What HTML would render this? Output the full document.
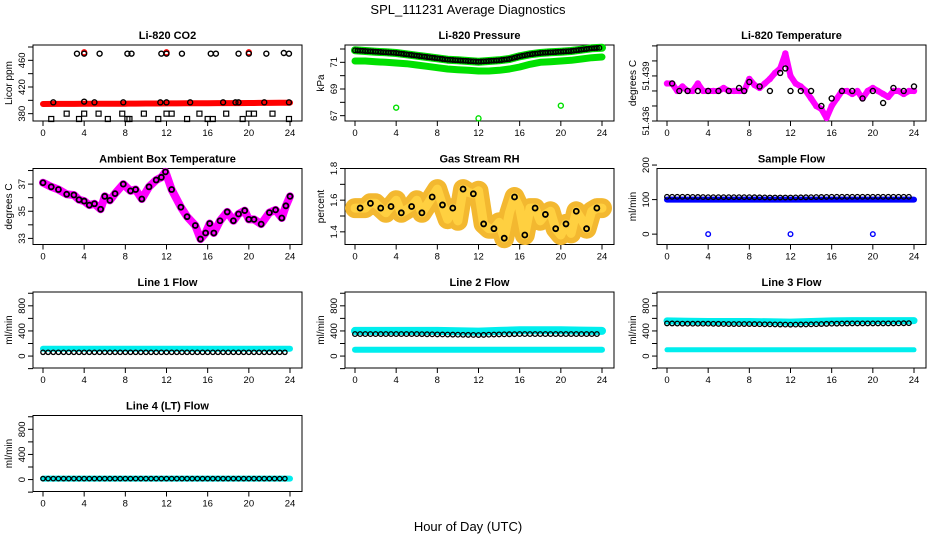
<!DOCTYPE html>
<html><head><meta charset="utf-8">
<style>
html,body{margin:0;padding:0;background:#fff;}
svg{display:block;font-family:"Liberation Sans",sans-serif;}
</style></head>
<body>
<svg id="chart" width="936" height="540" viewBox="0 0 936 540" xmlns="http://www.w3.org/2000/svg">
<rect width="936" height="540" fill="#fff"/>
<text x="468" y="14" text-anchor="middle" font-size="13">SPL_111231  Average Diagnostics</text>
<text x="468" y="531" text-anchor="middle" font-size="13">Hour of Day (UTC)</text>
</svg>
<script>
// ---- data ----
const xTicks = [0,4,8,12,16,20,24];
// CO2
const co2RedHours = [0,1,2,3,4,5,6,7,8,9,10,11,12,13,14,15,16,17,18,19,20,21,22,23,24];
const co2RedVals = [394.5,394.6,394.6,394.7,394.8,394.8,394.9,395,395,395.1,395.2,395.3,395.4,395.4,395.5,395.6,395.7,395.8,395.8,395.9,396,396.1,396.2,396.3,396.5];
const co2HighHours = [3.3,4,5.5,8.2,8.6,11.5,12,13.5,16.3,16.8,19,20,21.7,23.4,23.9];
const co2HighVals = [470,470,470,470,470,470,470,470,470,470,470,470,470,471,470];
const co2RedHighHours = [4,12,20];
const co2RedHighVals = [472,472,472];
const co2MidHours = [1,4,5,7.8,11.4,12,14.3,17.5,18.7,19,21.5,23.9];
const co2MidVals = [397,398,397,397,397,397,397,397,397,397,397,397];
const co2LowHours = [0.8,2.3,3.5,4,5.4,6.3,7.7,8.2,8.4,9.8,11.2,12,12.5,14,15.2,16,16.5,17.8,19.4,20,20.5,22.3,23.9];
const co2LowVals = [372,380,372,380,380,372,380,372,372,380,372,380,380,372,380,372,372,380,372,380,380,380,372];
// Pressure
const presHours = [0,1,2,3,4,5,6,7,8,9,10,11,12,13,14,15,16,17,18,19,20,21,22,23,24];
const presBlack = [71.9,71.85,71.8,71.75,71.7,71.6,71.5,71.4,71.3,71.2,71.15,71.1,71.05,71.1,71.15,71.25,71.45,71.6,71.7,71.75,71.8,71.85,71.95,72.05,72.1];
const presGreen = [71.1,71.1,71.05,71.0,70.95,70.9,70.8,70.7,70.6,70.5,70.45,70.4,70.35,70.35,70.4,70.5,70.65,70.85,71.0,71.05,71.1,71.15,71.25,71.35,71.4];
const presOutHours = [4,12,20];
const presOutVals = [67.6,66.8,67.75];
// Li-820 temperature
const tempHours = [0,0.5,1,1.5,2,2.5,3,3.5,4,4.5,5,5.5,6,6.5,7,7.5,8,8.5,9,9.5,10,10.5,11,11.5,12,12.5,13,13.5,14,14.5,15,15.5,16,16.5,17,17.5,18,18.5,19,19.5,20,20.5,21,21.5,22,22.5,23,23.5,24];
const tempPink = [51.4385,51.4385,51.438,51.4383,51.438,51.438,51.4385,51.438,51.438,51.438,51.438,51.4382,51.438,51.438,51.438,51.438,51.4388,51.4384,51.4382,51.4385,51.4388,51.4392,51.4395,51.4405,51.439,51.4385,51.4383,51.438,51.4375,51.437,51.4368,51.4362,51.437,51.4375,51.438,51.438,51.4378,51.438,51.4375,51.438,51.4382,51.438,51.4378,51.4376,51.438,51.438,51.4378,51.438,51.438];
const tempBlackHours = [0.5,1.2,2,3,4,5,6,7,7.5,8,9,10,11,11.5,12,13,14,15,16,17,18,19,20,21,22,23,24];
const tempBlack = [51.4385,51.438,51.438,51.438,51.438,51.438,51.438,51.4382,51.438,51.4386,51.4383,51.438,51.4392,51.4395,51.438,51.438,51.438,51.437,51.4375,51.438,51.438,51.4375,51.438,51.4372,51.4382,51.438,51.4383];
// Ambient box temperature
const ambHours = [0,0.8,1.5,2.3,3,3.5,4,4.5,5,5.6,6,6.5,7,7.8,8.5,9,9.6,10.3,11,11.5,11.9,12.5,13.4,14,14.8,15.3,15.8,16.2,16.6,17.2,17.9,18.5,19,19.6,20,20.5,21.2,22,22.6,23.2,23.6,24];
const ambVals = [37.1,36.8,36.6,36.25,36.2,35.85,35.75,35.45,35.55,35.15,36.1,35.8,36.3,37.0,36.5,36.6,35.9,36.8,37.3,37.5,37.9,36.6,35.3,34.6,33.95,32.95,33.4,34.1,33.4,34.3,34.95,34.3,34.8,35.05,34.4,34.4,34.05,34.9,35.1,34.5,35.4,36.1];
// Gas stream RH
const rhHours = [0,0.5,1,1.5,2,2.5,3,3.5,4,4.5,5,5.5,6,6.5,7,7.5,8,8.5,9,9.5,10,10.5,11,11.5,12,12.5,13,13.5,14,14.5,15,15.5,16,16.5,17,17.5,18,18.5,19,19.5,20,20.5,21,21.5,22,22.5,23,23.5,24];
const rhVals = [1.55,1.55,1.55,1.58,1.58,1.55,1.52,1.56,1.6,1.52,1.54,1.56,1.6,1.52,1.57,1.62,1.67,1.57,1.48,1.55,1.47,1.67,1.65,1.64,1.66,1.45,1.42,1.42,1.46,1.36,1.52,1.62,1.55,1.38,1.55,1.55,1.47,1.51,1.53,1.42,1.38,1.45,1.39,1.53,1.48,1.42,1.53,1.55,1.55];
// Flows
const flowHours = [0,2,4,6,8,10,12,14,16,18,20,22,24];
const sampleBlue = [100,100,100,100,100,100,100,100,100,100,100,100,100];
const sampleBlack = [108,108,107,107,107,106,106,107,108,108,108,108,108];
const sampleOutHours = [4,12,20];
const sampleOutVals = [0,0,0];
const line1Cyan = [115,115,115,115,115,115,115,115,115,115,115,115,115];
const line1Black = [60,60,60,60,60,60,60,60,60,60,60,60,60];
const line2CyanHi = [400,400,400,400,400,395,390,400,410,410,410,405,400];
const line2CyanLo = [100,100,100,100,100,100,100,100,100,100,100,100,100];
const line2Black = [350,350,350,350,345,340,335,345,350,350,350,350,350];
const line3CyanHi = [560,555,550,550,550,545,540,550,560,565,565,565,565];
const line3CyanLo = [100,100,100,100,100,100,100,100,100,100,100,100,100];
const line3Black = [520,515,515,510,510,505,500,505,515,520,520,520,525];
const line4Cyan = [15,15,15,15,15,15,15,15,15,15,15,15,15];
const line4Black = [15,15,15,15,15,15,15,15,15,15,15,15,15];

// ---- drawing ----
const NS = 'http://www.w3.org/2000/svg';
const svg = document.getElementById('chart');
function mk(parent, tag, attrs, name) {
  const el = document.createElementNS(NS, tag);
  for (const k in attrs) el.setAttribute(k, attrs[k]);
  
  
  parent.appendChild(el);
  return el;
}
function panel(col, row, title, ylab, ymin, ymax, yTicks, yLabels, slug) {
  const left = 33 + 312 * col, right = 302 + 312 * col;
  const top = 45 + 123.5 * row, bottom = top + 76;
  const g = mk(svg, 'g', {}, slug + '-panel');
  const x = h => 43 + 312 * col + h * (247 / 24);
  const y = v => bottom - (v - ymin) / (ymax - ymin) * (bottom - top);
  mk(g, 'rect', {x: left, y: top, width: right - left, height: bottom - top, fill: 'none', stroke: '#000', 'stroke-width': 1}, slug + '-plot-box');
  const t = mk(g, 'text', {x: (left + right) / 2, y: top - 6, 'text-anchor': 'middle', 'font-size': 11, 'font-weight': 'bold'}, slug + '-title');
  t.textContent = title;
  xTicks.forEach(h => {
    mk(g, 'line', {x1: x(h), x2: x(h), y1: bottom, y2: bottom + 5, stroke: '#000'}, 'x-tick');
    const lt = mk(g, 'text', {x: x(h), y: bottom + 15, 'text-anchor': 'middle', 'font-size': 9.5}, 'x-tick-label');
    lt.textContent = h;
  });
  yTicks.forEach((v, i) => {
    mk(g, 'line', {x1: left - 5, x2: left, y1: y(v), y2: y(v), stroke: '#000'}, 'y-tick');
    if (yLabels[i] !== '') {
      const lt = mk(g, 'text', {x: left - 8, y: y(v), 'text-anchor': 'middle', 'font-size': 9.5, transform: `rotate(-90 ${left - 8} ${y(v)})`}, 'y-tick-label');
      lt.textContent = yLabels[i];
    }
  });
  const yl = mk(g, 'text', {x: left - 21, y: (top + bottom) / 2, 'text-anchor': 'middle', 'font-size': 10, transform: `rotate(-90 ${left - 21} ${(top + bottom) / 2})`}, slug + '-y-axis-title');
  yl.textContent = ylab;
  const clip = mk(g, 'g', {}, slug + '-marks');
  return {g: clip, x, y};
}
function band(p, hs, vs, color, w, name) {
  const pts = hs.map((h, i) => p.x(h).toFixed(1) + ',' + p.y(vs[i]).toFixed(1)).join(' ');
  mk(p.g, 'polyline', {points: pts, fill: 'none', stroke: color, 'stroke-width': w, 'stroke-linejoin': 'round', 'stroke-linecap': 'round'}, name);
}
function pts(p, hs, vs, color, r, name, sw) {
  hs.forEach((h, i) => {
    mk(p.g, 'circle', {cx: p.x(h), cy: p.y(vs[i]), r: r, fill: 'none', stroke: color, 'stroke-width': sw || 1.4}, name);
  });
}
function dense(p, hs, vs, color, r, name) {
  for (let i = 0; i < hs.length - 1; i++) {
    for (let k = 0; k < 4; k++) {
      const f = k / 4;
      mk(p.g, 'circle', {cx: p.x(hs[i] + (hs[i + 1] - hs[i]) * f), cy: p.y(vs[i] + (vs[i + 1] - vs[i]) * f), r: r, fill: 'none', stroke: color, 'stroke-width': 1.3}, name);
    }
  }
}

// Panel: CO2
let p = panel(0, 0, 'Li-820 CO2', 'Licor ppm', 369, 483, [380,400,420,440,460,480], ['380','','420','','460',''], 'co2');
band(p, co2RedHours, co2RedVals, '#ff0000', 6, 'co2-red-series');
pts(p, co2RedHighHours, co2RedHighVals, '#ff0000', 2.5, 'co2-red-point');
pts(p, co2HighHours, co2HighVals, '#000', 2.5, 'co2-black-high-point');
pts(p, co2MidHours, co2MidVals, '#000', 2.5, 'co2-black-mid-point');
co2LowHours.forEach((h, i) => {
  mk(p.g, 'rect', {x: p.x(h) - 2.5, y: p.y(co2LowVals[i]) - 2.5, width: 5, height: 5, fill: 'none', stroke: '#000', 'stroke-width': 1.2}, 'co2-black-low-point');
});

// Pressure
p = panel(1, 0, 'Li-820 Pressure', 'kPa', 66.6, 72.3, [67,68,69,70,71,72], ['67','','69','','71',''], 'pressure');
band(p, presHours, presGreen, '#00e000', 7, 'pressure-green-series');
band(p, presHours, presBlack, '#00e000', 8, 'pressure-green-upper-series');
dense(p, presHours, presBlack, '#000', 2.3, 'pressure-black-point');
pts(p, presOutHours, presOutVals, '#00e000', 2.5, 'pressure-green-outlier');

// Li-820 temperature
p = panel(2, 0, 'Li-820 Temperature', 'degrees C', 51.436, 51.44106, [51.436,51.437,51.438,51.439,51.440,51.441], ['51.436','','','51.439','',''], 'temperature');
band(p, tempHours, tempPink, '#ff00ff', 6, 'temperature-magenta-series');
pts(p, tempHours, tempPink, '#ff00ff', 2.5, 'temperature-magenta-point');
pts(p, tempBlackHours, tempBlack, '#000', 2.5, 'temperature-black-point');

// Ambient
p = panel(0, 1, 'Ambient Box Temperature', 'degrees C', 32.55, 38.15, [33,34,35,36,37,38], ['33','','35','','37',''], 'ambient');
band(p, ambHours, ambVals, '#ff00ff', 8, 'ambient-magenta-series');
pts(p, ambHours, ambVals, '#000', 2.5, 'ambient-black-point', 1.8);

// RH
p = panel(1, 1, 'Gas Stream RH', 'percent', 1.32, 1.8, [1.4,1.5,1.6,1.7,1.8], ['1.4','','1.6','','1.8'], 'rh');
band(p, rhHours, rhVals, '#f3b830', 20, 'rh-orange-series');
band(p, rhHours, rhVals, '#ffd040', 9, 'rh-yellow-series');
pts(p, rhHours.filter((h, i) => i % 2 === 1), rhVals.filter((v, i) => i % 2 === 1), '#000', 2.5, 'rh-black-point', 1.8);

// Sample flow
p = panel(2, 1, 'Sample Flow', 'ml/min', -30, 190, [0,100,200], ['0','100','200'], 'sample-flow');
band(p, flowHours, sampleBlue, '#0000ff', 6, 'sample-flow-blue-series');
dense(p, flowHours, sampleBlack, '#000', 2.3, 'sample-flow-black-point');
pts(p, sampleOutHours, sampleOutVals, '#0000ff', 2.3, 'sample-flow-blue-outlier');

const fT = [-200,0,200,400,600,800,1000], fL = ['','0','','400','','800',''];
// Line 1
p = panel(0, 2, 'Line 1 Flow', 'ml/min', -190, 1020, fT, fL, 'line1-flow');
band(p, flowHours, line1Cyan, '#00eeee', 6, 'line1-cyan-series');
dense(p, flowHours, line1Black, '#000', 2.2, 'line1-black-point');
// Line 2
p = panel(1, 2, 'Line 2 Flow', 'ml/min', -190, 1020, fT, fL, 'line2-flow');
band(p, flowHours, line2CyanHi, '#00eeee', 8, 'line2-cyan-high-series');
band(p, flowHours, line2CyanLo, '#00eeee', 6, 'line2-cyan-low-series');
dense(p, flowHours, line2Black, '#000', 2.3, 'line2-black-point');
// Line 3
p = panel(2, 2, 'Line 3 Flow', 'ml/min', -190, 1020, fT, fL, 'line3-flow');
band(p, flowHours, line3CyanHi, '#00eeee', 7, 'line3-cyan-high-series');
band(p, flowHours, line3CyanLo, '#00eeee', 5, 'line3-cyan-low-series');
dense(p, flowHours, line3Black, '#000', 2.3, 'line3-black-point');
// Line 4
p = panel(0, 3, 'Line 4 (LT) Flow', 'ml/min', -190, 1020, fT, fL, 'line4-flow');
band(p, flowHours, line4Cyan, '#00eeee', 6, 'line4-cyan-series');
dense(p, flowHours, line4Black, '#000', 2.2, 'line4-black-point');
</script>
</body></html>
